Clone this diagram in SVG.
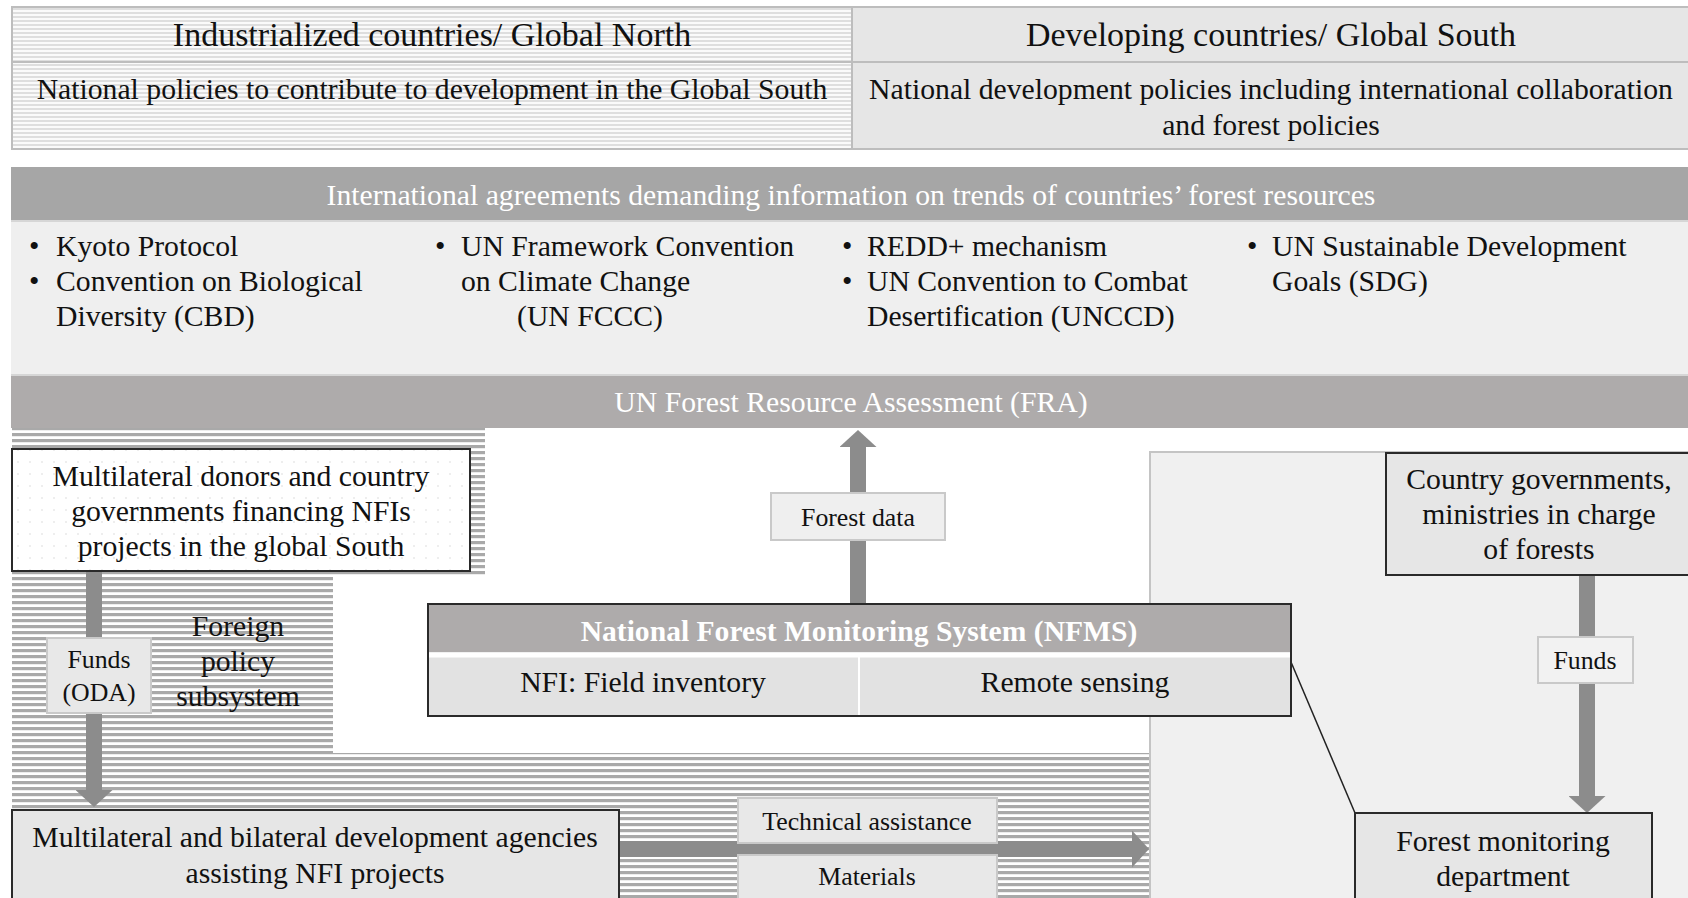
<svg xmlns="http://www.w3.org/2000/svg" width="1688" height="898" viewBox="0 0 1688 898">
<style>
text{font-family:"Liberation Serif","Times New Roman",serif;fill:#111;}
.c{text-anchor:middle;}
.w{fill:#fff;}
.t31{font-size:34px;}
.t27{font-size:29.7px;}
.t28{font-size:29.7px;}
.t23{font-size:25.8px;}
.node{stroke:#2a2a2a;stroke-width:2;}
.lbl{fill:#e8e8e8;stroke:#c9c9c9;stroke-width:2;}
.arrow{stroke:#8c8c8c;stroke-width:16;fill:none;marker-end:url(#head);}
</style>
<defs>
<pattern id="stripesLight" patternUnits="userSpaceOnUse" width="8" height="4">
<rect width="8" height="4" fill="#fafafa"/>
<rect width="8" height="2" fill="#dedede"/>
</pattern>
<pattern id="stripes" patternUnits="userSpaceOnUse" width="8" height="6" y="1">
<rect width="8" height="6" fill="#ffffff"/>
<rect width="8" height="3.2" fill="#a9a9a9"/>
</pattern>
<pattern id="dots" patternUnits="userSpaceOnUse" width="12" height="12">
<rect width="12" height="12" fill="#ffffff"/>
<circle cx="6" cy="6" r="0.8" fill="#dadada"/>
</pattern>
<marker id="head" viewBox="0 0 10 10" refX="0" refY="5" markerUnits="userSpaceOnUse" markerWidth="17" markerHeight="37" orient="auto" preserveAspectRatio="none">
<path d="M0,0 L10,5 L0,10 z" fill="#8c8c8c"/>
</marker>
</defs>
<rect width="1688" height="898" fill="#ffffff"/>

<g id="top-table">
<rect x="12" y="7" width="840" height="142" fill="url(#stripesLight)"/>
<rect x="852" y="7" width="840" height="142" fill="#e6e6e6"/>
<rect x="12" y="7" width="1680" height="142" fill="none" stroke="#bdbdbd" stroke-width="2"/>
<line x1="12" y1="62" x2="1688" y2="62" stroke="#bdbdbd" stroke-width="2"/>
<line x1="852" y1="7" x2="852" y2="149" stroke="#bdbdbd" stroke-width="2"/>
<text class="c t31" x="432" y="46">Industrialized countries/ Global North</text>
<text class="c t31" x="1271" y="46">Developing countries/ Global South</text>
<text class="c t27" x="432" y="99">National policies to contribute to development in the Global South</text>
<text class="c t27" x="1271" y="99">National development policies including international collaboration</text>
<text class="c t27" x="1271" y="135">and forest policies</text>
</g>

<g id="agreements">
<rect x="11" y="167" width="1680" height="54" fill="#a6a6a6"/>
<rect x="11" y="221" width="1680" height="154" fill="#efefef"/>
<rect x="11" y="375" width="1680" height="53" fill="#aeabab"/>
<line x1="11" y1="221" x2="1688" y2="221" stroke="#d6d6d6" stroke-width="2"/>
<line x1="11" y1="375" x2="1688" y2="375" stroke="#d6d6d6" stroke-width="2"/>
<text class="c t27 w" x="851" y="205">International agreements demanding information on trends of countries’ forest resources</text>
<g class="t28">
<text x="29" y="256">•</text><text x="56" y="256">Kyoto Protocol</text>
<text x="29" y="291">•</text><text x="56" y="291">Convention on Biological</text>
<text x="56" y="326">Diversity (CBD)</text>
<text x="435" y="256">•</text><text x="461" y="256">UN Framework Convention</text>
<text x="461" y="291">on Climate Change</text>
<text x="517" y="326">(UN FCCC)</text>
<text x="842" y="256">•</text><text x="867" y="256">REDD+ mechanism</text>
<text x="842" y="291">•</text><text x="867" y="291">UN Convention to Combat</text>
<text x="867" y="326">Desertification (UNCCD)</text>
<text x="1247" y="256">•</text><text x="1272" y="256">UN Sustainable Development</text>
<text x="1272" y="291">Goals (SDG)</text>
</g>
<text class="c t28 w" x="851" y="412">UN Forest Resource Assessment (FRA)</text>
</g>

<g id="north-subsystem">
<path d="M12,428 H485 V577 H333 V753 H1150 V898 H12 Z" fill="url(#stripes)"/>
<text class="c t27" x="238" y="636">Foreign</text>
<text class="c t27" x="238" y="671">policy</text>
<text class="c t27" x="238" y="706">subsystem</text>
</g>

<g id="south-subsystem">
<rect x="1150" y="452" width="545" height="460" fill="#f0f0f0" stroke="#c4c4c4" stroke-width="2"/>
</g>

<g id="connectors">
<line class="arrow" x1="94" y1="572" x2="94" y2="790"/>
<line class="arrow" x1="620" y1="849" x2="1132" y2="849"/>
<line class="arrow" x1="858" y1="603" x2="858" y2="447"/>
<line class="arrow" x1="1587" y1="575" x2="1587" y2="796"/>
<line x1="1291" y1="662" x2="1355" y2="813" stroke="#222" stroke-width="1.5"/>
<g id="label-funds-oda">
<rect class="lbl" x="47" y="638" width="104" height="75"/>
<text class="c t23" x="99" y="668">Funds</text>
<text class="c t23" x="99" y="701">(ODA)</text>
</g>
<g id="label-technical">
<rect class="lbl" x="738" y="798" width="259" height="45"/>
<text class="c t23" x="867" y="830">Technical assistance</text>
</g>
<g id="label-materials">
<rect class="lbl" x="738" y="855" width="259" height="50"/>
<text class="c t23" x="867" y="885">Materials</text>
</g>
<g id="label-forest-data">
<rect class="lbl" x="771" y="493" width="174" height="47" style="fill:#efefef"/>
<text class="c t23" x="858" y="526">Forest data</text>
</g>
<g id="label-funds">
<rect class="lbl" x="1538" y="637" width="95" height="46" style="fill:#f2f2f2"/>
<text class="c t23" x="1585" y="669">Funds</text>
</g>
</g>

<g id="donors">
<rect class="node" x="12" y="449" width="458" height="122" fill="url(#dots)"/>
<text class="c t27" x="241" y="486">Multilateral donors and country</text>
<text class="c t27" x="241" y="521">governments financing NFIs</text>
<text class="c t27" x="241" y="556">projects in the global South</text>
</g>

<g id="agencies">
<rect class="node" x="12" y="810" width="607" height="100" fill="#e6e6e6"/>
<text class="c t27" x="315" y="847">Multilateral and bilateral development agencies</text>
<text class="c t27" x="315" y="883">assisting NFI projects</text>
</g>

<g id="nfms">
<rect x="428" y="604" width="863" height="112" fill="#e2e2e2"/>
<rect x="428" y="604" width="863" height="48" fill="#aeabab"/>
<line x1="428" y1="655" x2="1291" y2="655" stroke="#ffffff" stroke-width="5"/>
<line x1="859" y1="657" x2="859" y2="716" stroke="#ffffff" stroke-width="2"/>
<rect class="node" x="428" y="604" width="863" height="112" fill="none"/>
<text class="c w" x="859" y="641" style="font-size:29.6px;font-weight:bold;fill:#fff">National Forest Monitoring System (NFMS)</text>
<text class="c t27" x="643" y="692">NFI: Field inventory</text>
<text class="c t27" x="1075" y="692">Remote sensing</text>
</g>

<g id="country-governments">
<rect class="node" x="1386" y="453" width="310" height="122" fill="#e6e6e6"/>
<text class="c t27" x="1539" y="489">Country governments,</text>
<text class="c t27" x="1539" y="524">ministries in charge</text>
<text class="c t27" x="1539" y="559">of forests</text>
</g>

<g id="monitoring-department">
<rect class="node" x="1355" y="813" width="297" height="100" fill="#e6e6e6"/>
<text class="c t28" x="1503" y="851">Forest monitoring</text>
<text class="c t28" x="1503" y="886">department</text>
</g>
</svg>
